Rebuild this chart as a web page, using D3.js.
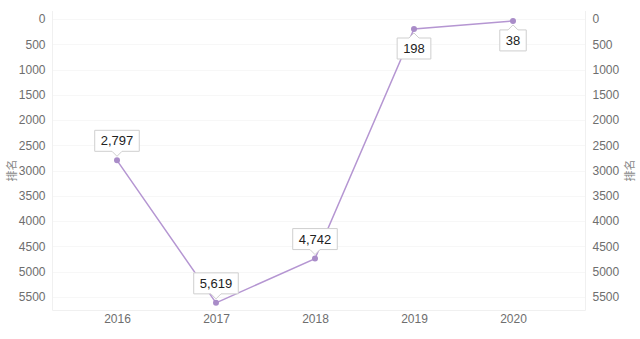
<!DOCTYPE html>
<html><head><meta charset="utf-8">
<script src="https://cdn.jsdelivr.net/npm/d3@7"></script>
<style>
html,body{margin:0;padding:0;background:#fff;}
svg{display:block;font-family:"Liberation Sans",Arial,Helvetica,sans-serif;}
</style></head>
<body><svg id="c" width="640" height="339"></svg>
<script>
const years = ["2016","2017","2018","2019","2020"];
const ranks = [2797, 5619, 4742, 198, 38];
const labelBelow = [false, false, false, true, true];
const yTicks = [0,500,1000,1500,2000,2500,3000,3500,4000,4500,5000,5500];
const axisTitle = "排名";

(function(){
const svg = d3.select("#c");
const pLeft = 52.5, pRight = 585.5, pTop = 19, pBottom = 310.5;

const x = d3.scalePoint().domain(years).range([117, 513]);
const y = d3.scaleLinear().domain([0, 5770]).range([pTop, pBottom]);

// grid
const g = svg.append("g");
g.selectAll("line.h").data(yTicks).join("line")
  .attr("x1", pLeft).attr("x2", pRight)
  .attr("y1", d => Math.round(y(d)) + 0.5).attr("y2", d => Math.round(y(d)) + 0.5)
  .attr("stroke", "#f7f7f7");
g.append("line").attr("x1", pLeft).attr("x2", pRight).attr("y1", pBottom).attr("y2", pBottom).attr("stroke", "#f0f0f0");
g.append("line").attr("x1", pLeft).attr("x2", pLeft).attr("y1", pTop - 8).attr("y2", pBottom).attr("stroke", "#f0f0f0");
g.append("line").attr("x1", pRight).attr("x2", pRight).attr("y1", pTop - 8).attr("y2", pBottom).attr("stroke", "#f0f0f0");

// axes
const yl = svg.append("g").attr("transform", `translate(${pLeft},0)`)
  .call(d3.axisLeft(y).tickValues(yTicks).tickFormat(d3.format("d")).tickSize(0).tickPadding(7));
const yr = svg.append("g").attr("transform", `translate(${pRight},0)`)
  .call(d3.axisRight(y).tickValues(yTicks).tickFormat(d3.format("d")).tickSize(0).tickPadding(7));
const xa = svg.append("g").attr("transform", `translate(0,${pBottom})`)
  .call(d3.axisBottom(x).tickSize(0).tickPadding(4));
[yl, yr, xa].forEach(a => {
  a.select(".domain").remove();
  a.selectAll("text").attr("fill", "#6e6e6e").style("font-size", "12px")
    .style("font-family", "'Liberation Sans',Arial,sans-serif");
});

// axis titles
svg.append("text").attr("transform", `translate(16,${y(3000)}) rotate(-90)`)
  .attr("text-anchor", "middle").attr("fill", "#888").style("font-size", "11px")
  .style("font-family", "'Noto Sans CJK SC',sans-serif").text(axisTitle);
svg.append("text").attr("transform", `translate(634,${y(3000)}) rotate(-90)`)
  .attr("text-anchor", "middle").attr("fill", "#888").style("font-size", "11px")
  .style("font-family", "'Noto Sans CJK SC',sans-serif").text(axisTitle);

// line
const data = years.map((yr, i) => ({year: yr, v: ranks[i], below: labelBelow[i]}));
svg.append("path").datum(data)
  .attr("fill", "none").attr("stroke", "#b596d2").attr("stroke-width", 1.5)
  .attr("d", d3.line().x(d => x(d.year)).y(d => y(d.v)));
svg.selectAll("circle.pt").data(data).join("circle")
  .attr("cx", d => x(d.year)).attr("cy", d => y(d.v)).attr("r", 3)
  .attr("fill", "#a98cc8");

// labels
const fmt = d3.format(",");
const lab = svg.selectAll("g.lab").data(data).join("g");
lab.each(function(d) {
  const el = d3.select(this);
  const cx = x(d.year), cy = y(d.v);
  const txt = fmt(d.v);
  const t = el.append("text").attr("text-anchor", "middle")
    .attr("fill", "#222").style("font-size", "13px").text(txt);
  const tw = t.node().getComputedTextLength();
  const bw = tw + 12, bh = 21, gap = 4, ptr = 5;
  let path;
  const x0 = cx - bw / 2, x1 = cx + bw / 2;
  if (!d.below) {
    const by1 = cy - gap - ptr, by0 = by1 - bh;
    path = `M${x0},${by0}H${x1}V${by1}H${cx+ptr}L${cx},${by1+ptr}L${cx-ptr},${by1}H${x0}Z`;
    t.attr("x", cx).attr("y", by0 + 15);
  } else {
    const by0 = cy + gap + ptr, by1 = by0 + bh;
    path = `M${x0},${by0}H${cx-ptr}L${cx},${by0-ptr}L${cx+ptr},${by0}H${x1}V${by1}H${x0}Z`;
    t.attr("x", cx).attr("y", by0 + 15);
  }
  el.insert("path", "text").attr("d", path).attr("fill", "#fff")
    .attr("stroke", "#cfcfcf").attr("stroke-width", 1);
});
})();
</script></body></html>
